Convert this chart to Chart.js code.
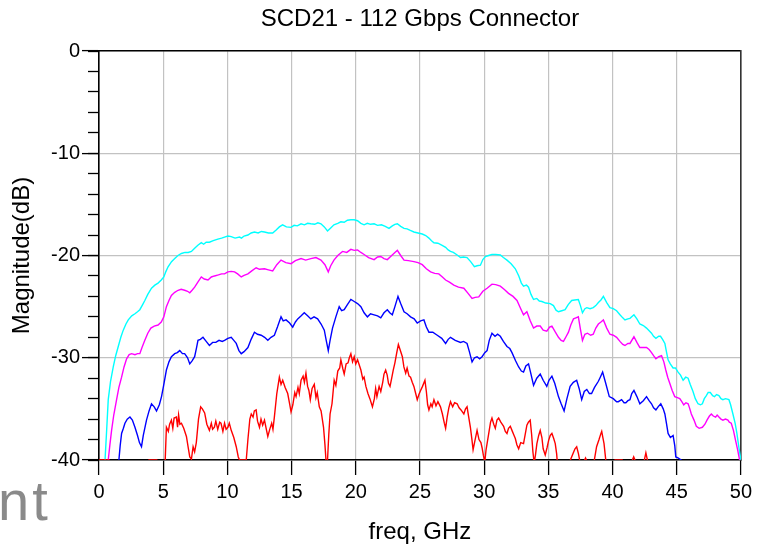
<!DOCTYPE html>
<html>
<head>
<meta charset="utf-8">
<script src="https://cdn.jsdelivr.net/npm/chart.js@4.4.1/dist/chart.umd.min.js"></script>
<style>
html,body{margin:0;padding:0;background:#fff;}
#wrap{width:757px;height:547px;position:relative;}
</style>
</head>
<body>
<div id="wrap"><canvas id="c" width="757" height="547"></canvas></div>
<script>
const chartTitle = "SCD21 - 112 Gbps Connector";
const xTitle = "freq, GHz";
const yTitle = "Magnitude(dB)";
const sideText = "nt";
const xTicks = [0,5,10,15,20,25,30,35,40,45,50];
const yTicks = [0,-10,-20,-30,-40];

const cyanFreq = [0.0,0.3,0.47,0.6,0.72,0.9,1.11,1.3,1.5,1.7,1.89,2.1,2.28,2.55,2.8,3.0,3.18,3.4,3.57,3.8,4.09,4.35,4.6,4.85,5.05,5.2,5.38,5.65,5.9,6.15,6.42,6.7,6.95,7.2,7.45,7.7,7.97,8.15,8.35,8.6,8.9,9.26,9.55,9.78,10.04,10.3,10.6,10.95,11.1,11.3,11.6,11.85,12.11,12.4,12.65,12.89,13.2,13.53,13.8,14.05,14.3,14.6,14.96,15.2,15.45,15.74,16.0,16.25,16.5,16.8,17.05,17.29,17.55,17.8,18.05,18.3,18.6,18.84,19.1,19.35,19.62,19.88,20.14,20.4,20.65,20.9,21.15,21.43,21.7,22.0,22.3,22.59,22.85,23.05,23.24,23.5,23.76,24.0,24.25,24.53,24.85,25.18,25.45,25.7,25.9,26.09,26.4,26.73,27.0,27.2,27.38,27.6,27.9,28.16,28.4,28.67,28.95,29.24,29.45,29.71,29.9,30.1,30.35,30.61,30.9,31.26,31.5,31.78,32.1,32.43,32.7,32.9,33.07,33.3,33.46,33.65,33.85,34.1,34.3,34.5,34.8,35.15,35.4,35.6,35.79,36.05,36.31,36.55,36.82,37.05,37.34,37.5,37.66,37.85,38.0,38.25,38.5,38.7,38.9,39.1,39.29,39.55,39.8,40.06,40.32,40.58,40.8,40.97,41.2,41.36,41.67,41.9,42.13,42.4,42.65,43.04,43.2,43.38,43.6,43.74,43.9,44.08,44.2,44.33,44.5,44.72,44.9,45.11,45.3,45.5,45.7,45.89,46.05,46.27,46.45,46.66,46.85,47.0,47.15,47.31,47.45,47.62,47.8,47.95,48.1,48.29,48.45,48.6,48.8,49.07,49.2,49.38,49.55,49.69,49.85,50.0];
const cyanDb = [-52,-44,-40,-37,-34.1,-32.3,-30.9,-29.8,-28.9,-28.0,-27.3,-26.7,-26.3,-25.9,-25.7,-25.5,-25.3,-24.8,-24.4,-23.8,-23.2,-22.9,-22.7,-22.4,-22.1,-21.6,-21.1,-20.6,-20.3,-20.0,-19.8,-19.7,-19.7,-19.6,-19.3,-19.0,-18.75,-18.9,-18.7,-18.7,-18.55,-18.4,-18.3,-18.2,-18.1,-18.15,-18.3,-18.2,-18.3,-18.1,-18.0,-17.8,-17.7,-17.8,-17.65,-17.7,-17.8,-17.8,-17.5,-17.2,-17.0,-17.2,-17.25,-17.05,-17.1,-16.9,-17.0,-16.85,-16.9,-16.95,-16.8,-16.9,-17.2,-17.6,-17.3,-17.0,-16.85,-16.7,-16.75,-16.55,-16.5,-16.5,-16.6,-16.85,-17.0,-16.85,-16.95,-16.9,-17.05,-17.0,-17.15,-17.35,-17.1,-16.95,-16.9,-17.15,-17.35,-17.4,-17.55,-17.7,-17.8,-17.9,-18.05,-18.3,-18.55,-18.75,-18.8,-19.0,-19.2,-19.45,-19.6,-19.7,-19.95,-20.2,-20.15,-20.2,-20.6,-21.1,-21.0,-20.95,-20.4,-20.1,-20.0,-19.9,-19.9,-19.95,-20.2,-20.45,-20.8,-21.3,-22.0,-22.7,-23.0,-22.9,-23.1,-23.8,-24.3,-24.2,-24.45,-24.5,-24.65,-24.7,-24.9,-25.35,-25.5,-25.4,-25.3,-24.8,-24.4,-24.35,-24.3,-24.9,-25.6,-25.2,-25.1,-25.2,-25.1,-24.9,-24.6,-24.35,-24.0,-24.6,-25.1,-25.2,-25.4,-25.8,-26.1,-26.3,-26.2,-26.15,-25.8,-26.2,-26.7,-26.85,-27.1,-27.6,-27.9,-28.1,-27.9,-27.9,-28.2,-28.6,-29.4,-30.2,-30.6,-31.0,-31.0,-31.4,-31.7,-32.2,-31.9,-32.0,-32.6,-33.3,-34.0,-34.5,-34.6,-34.5,-34.0,-33.7,-33.4,-33.4,-33.7,-33.8,-33.6,-33.7,-34.0,-34.1,-34.0,-34.1,-34.6,-35.5,-36.4,-37.4,-38.8,-40.0];

const magentaFreq = [0.3,0.6,0.72,0.85,0.98,1.15,1.37,1.55,1.76,1.95,2.15,2.35,2.54,2.8,3.0,3.18,3.35,3.57,3.8,4.04,4.3,4.6,4.85,5.05,5.25,5.45,5.64,5.9,6.16,6.4,6.67,6.9,7.07,7.25,7.45,7.7,7.97,8.2,8.49,8.75,9.0,9.3,9.55,9.78,10.04,10.3,10.56,10.8,11.08,11.3,11.6,11.9,12.24,12.5,12.89,13.2,13.53,13.85,14.18,14.55,14.96,15.3,15.74,16.1,16.5,16.9,17.29,17.6,17.86,18.05,18.3,18.6,18.97,19.3,19.62,19.88,20.14,20.4,20.65,21.0,21.43,21.7,21.95,22.2,22.46,22.8,23.05,23.24,23.5,23.76,24.1,24.53,24.85,25.18,25.5,25.83,26.15,26.47,26.75,27.0,27.3,27.64,28.0,28.42,28.75,29.06,29.3,29.58,29.9,30.23,30.61,30.9,31.26,31.6,31.9,32.25,32.56,32.85,33.07,33.33,33.6,33.85,34.1,34.37,34.6,34.88,35.1,35.28,35.55,35.79,36.0,36.18,36.4,36.57,36.75,36.96,37.15,37.34,37.5,37.66,37.85,38.05,38.3,38.5,38.7,38.9,39.1,39.29,39.55,39.8,40.06,40.32,40.58,40.8,40.97,41.2,41.36,41.67,41.9,42.13,42.4,42.65,42.85,43.04,43.2,43.38,43.6,43.82,44.0,44.15,44.3,44.46,44.65,44.85,45.05,45.24,45.4,45.55,45.72,45.89,46.0,46.14,46.35,46.53,46.75,47.0,47.2,47.36,47.55,47.7,47.85,48.03,48.15,48.29,48.45,48.6,48.8,48.99,49.1,49.25,49.42,49.59,49.75,49.9,50.0];
const magentaDb = [-48,-42,-40,-38.5,-37.1,-35.6,-34.1,-32.9,-31.9,-30.9,-30.1,-29.7,-29.6,-29.7,-29.6,-29.6,-29.0,-28.3,-27.6,-27.1,-26.9,-26.8,-26.5,-26.0,-25.0,-24.4,-23.9,-23.6,-23.4,-23.3,-23.4,-23.5,-23.65,-23.4,-23.1,-22.6,-22.1,-22.3,-22.4,-22.1,-22.0,-21.9,-21.8,-21.8,-21.6,-21.55,-21.6,-21.8,-22.1,-21.95,-21.8,-21.5,-21.2,-21.35,-21.3,-21.4,-21.5,-20.9,-20.45,-20.7,-20.8,-20.5,-20.3,-20.45,-20.3,-20.2,-20.45,-20.9,-21.6,-21.0,-20.45,-20.0,-19.6,-19.7,-19.4,-19.5,-19.45,-19.7,-19.9,-20.2,-20.4,-20.15,-20.1,-20.3,-20.4,-20.0,-19.7,-19.5,-20.0,-20.45,-20.5,-20.6,-20.7,-20.9,-21.3,-21.6,-21.75,-21.8,-22.1,-22.4,-22.6,-22.9,-23.1,-23.2,-23.7,-24.2,-24.1,-24.05,-23.5,-23.2,-22.8,-22.85,-23.0,-23.35,-23.7,-24.0,-24.4,-25.2,-25.8,-25.5,-26.4,-27.1,-26.9,-26.9,-27.3,-27.4,-27.0,-26.9,-27.5,-28.0,-28.3,-28.4,-27.9,-27.5,-26.8,-26.2,-26.1,-26.0,-27.2,-28.3,-27.7,-27.6,-27.8,-27.7,-27.1,-26.7,-26.5,-26.3,-27.1,-27.7,-27.8,-28.0,-28.4,-28.7,-28.8,-28.6,-28.6,-27.95,-28.5,-29.0,-29.0,-29.0,-29.2,-29.5,-29.8,-30.1,-29.9,-29.8,-30.4,-31.2,-31.9,-32.5,-33.2,-33.8,-33.9,-34.0,-34.3,-34.6,-34.4,-34.5,-34.9,-35.5,-36.1,-36.7,-36.9,-36.8,-36.5,-36.1,-35.7,-35.5,-35.7,-35.8,-35.6,-35.8,-36.0,-36.1,-36.0,-36.1,-36.3,-36.4,-37.1,-38.1,-39.0,-40.0,-41];

const blueFreq = [1.3,1.55,1.65,1.76,1.9,2.02,2.2,2.41,2.6,2.8,3.0,3.15,3.31,3.45,3.7,3.9,4.09,4.3,4.48,4.7,4.87,5.05,5.25,5.45,5.64,5.9,6.1,6.29,6.5,6.67,6.9,7.07,7.25,7.45,7.6,7.71,7.9,8.1,8.35,8.6,8.85,9.1,9.35,9.6,9.78,10.04,10.3,10.5,10.69,10.9,11.08,11.3,11.6,11.85,12.11,12.35,12.63,12.9,13.15,13.4,13.66,13.9,14.18,14.35,14.57,14.85,15.09,15.3,15.48,15.75,15.99,16.25,16.5,16.75,17.03,17.3,17.55,17.7,17.86,18.0,18.19,18.45,18.71,18.9,19.1,19.35,19.62,19.88,20.14,20.4,20.65,20.91,21.15,21.43,21.7,21.95,22.2,22.46,22.65,22.85,23.05,23.29,23.5,23.76,24.0,24.27,24.55,24.79,25.05,25.31,25.5,25.7,26.0,26.35,26.7,27.0,27.2,27.38,27.75,28.16,28.4,28.67,28.85,29.06,29.25,29.45,29.65,29.84,30.05,30.23,30.4,30.61,30.85,31.05,31.26,31.5,31.78,32.0,32.17,32.45,32.69,32.9,33.07,33.25,33.46,33.65,33.85,34.1,34.37,34.6,34.88,35.05,35.28,35.5,35.79,36.0,36.23,36.45,36.7,36.95,37.21,37.4,37.6,37.8,38.0,38.2,38.37,38.6,38.9,39.05,39.23,39.45,39.75,40.06,40.32,40.45,40.71,40.9,41.04,41.2,41.36,41.5,41.67,41.9,42.13,42.4,42.65,42.85,43.04,43.2,43.38,43.55,43.76,43.95,44.08,44.2,44.33,44.51,44.72,44.85,44.93,45.1,45.24,45.35,45.5,45.7];
const blueDb = [-44,-40,-38.6,-37.4,-36.9,-36.4,-36.0,-35.8,-36.1,-36.8,-37.6,-38.3,-38.7,-37.6,-36.1,-35.2,-34.5,-34.8,-35.2,-34.6,-33.8,-32.6,-31.2,-30.4,-29.9,-29.6,-29.5,-29.3,-29.6,-29.6,-30.0,-30.6,-30.3,-29.9,-29.0,-28.3,-28.2,-28.0,-28.4,-28.8,-28.5,-28.5,-28.3,-28.4,-28.3,-28.1,-28.0,-28.3,-28.6,-29.3,-29.6,-29.4,-29.0,-28.2,-27.5,-27.7,-27.8,-28.0,-28.3,-28.0,-27.8,-27.0,-26.0,-26.4,-26.3,-26.6,-27.0,-26.5,-26.2,-25.9,-25.6,-25.9,-26.2,-26.0,-26.2,-26.7,-27.3,-28.3,-29.3,-28.3,-27.1,-26.0,-25.0,-25.4,-25.3,-24.8,-24.3,-24.5,-24.7,-25.0,-25.6,-26.0,-25.7,-25.8,-25.9,-26.1,-25.6,-25.3,-25.6,-25.8,-25.0,-24.0,-24.7,-25.5,-25.7,-26.0,-26.2,-26.6,-26.4,-26.3,-27.0,-27.5,-27.5,-27.8,-28.1,-28.6,-28.2,-28.0,-28.3,-28.5,-28.4,-28.6,-29.4,-30.4,-30.0,-29.9,-30.1,-29.9,-29.5,-29.3,-28.3,-27.6,-27.9,-27.7,-27.9,-28.4,-28.9,-29.1,-29.5,-30.3,-30.9,-31.3,-31.4,-30.8,-30.6,-31.6,-32.7,-32.0,-31.6,-32.2,-32.8,-32.2,-31.8,-32.5,-33.8,-34.5,-35.2,-34.0,-32.8,-32.4,-32.2,-33.0,-34.1,-33.3,-33.1,-33.5,-33.5,-32.9,-32.3,-31.9,-31.4,-32.4,-33.8,-34.0,-34.3,-34.3,-34.1,-34.4,-34.4,-34.2,-34.1,-33.5,-33.2,-33.8,-34.5,-34.2,-33.8,-34.2,-34.5,-34.9,-35.1,-34.8,-34.5,-35.0,-35.5,-36.4,-37.4,-37.8,-37.6,-38.6,-39.7,-39.8,-39.9,-40.0,-43,-46];

const redFreq = [0.0,0.4,0.8,1.0,3.7,3.9,4.5,4.7,5.1,5.25,5.4,5.5,5.64,5.75,5.85,6.03,6.12,6.2,6.3,6.42,6.6,6.81,6.95,7.07,7.2,7.33,7.45,7.58,7.75,7.92,8.05,8.23,8.4,8.6,8.75,8.85,8.99,9.1,9.25,9.4,9.5,9.65,9.78,9.9,10.04,10.15,10.3,10.5,10.69,10.85,10.95,11.47,11.6,11.75,11.86,12.0,12.1,12.24,12.35,12.5,12.62,12.75,12.89,13.02,13.15,13.3,13.45,13.55,13.66,13.85,14.05,14.18,14.31,14.5,14.7,14.85,14.96,15.1,15.25,15.35,15.5,15.6,15.74,15.9,16.0,16.12,16.25,16.35,16.46,16.6,16.77,16.9,17.0,17.16,17.3,17.49,17.6,17.68,17.75,17.8,17.9,18.0,18.15,18.32,18.45,18.6,18.75,18.84,19.0,19.1,19.25,19.4,19.5,19.62,19.75,19.88,20.0,20.14,20.3,20.4,20.55,20.65,20.79,20.95,21.1,21.3,21.45,21.55,21.65,21.82,21.95,22.1,22.2,22.33,22.45,22.55,22.67,22.8,22.92,23.05,23.18,23.32,23.45,23.63,23.75,23.89,24.0,24.15,24.27,24.4,24.53,24.65,24.79,24.92,25.05,25.2,25.39,25.5,25.6,25.7,25.85,25.95,26.09,26.25,26.4,26.6,26.75,26.9,27.0,27.12,27.25,27.38,27.55,27.7,27.9,28.05,28.2,28.42,28.55,28.67,28.8,28.93,29.05,29.14,29.3,29.45,29.6,29.75,29.84,29.95,30.05,30.15,30.36,30.5,30.61,30.75,30.87,31.0,31.13,31.3,31.52,31.65,31.78,31.9,32.04,32.2,32.3,32.43,32.55,32.69,32.85,33.07,33.2,33.33,33.45,33.59,33.7,33.8,33.9,34.0,34.11,34.25,34.37,34.5,34.6,34.76,34.9,35.02,35.15,35.28,35.42,35.54,35.65,35.75,36.0,36.55,36.72,36.95,37.08,37.21,37.35,37.47,37.65,37.8,37.9,38.0,38.15,38.45,38.6,38.76,38.95,39.1,39.16,39.25,39.34,39.45,39.55,39.9,40.2,40.75,40.9,41.4,41.55,41.65,41.75,41.9,42.35,42.5,42.6,42.7,42.85,43.5,50.0];
const redDb = [-40,-40,-40,-43,-43,-40,-40,-43,-42,-36.8,-37.2,-36.5,-36.1,-36.9,-35.9,-35.8,-36.8,-35.6,-36.5,-36.4,-36.9,-37.7,-38.8,-39.7,-39.9,-38.7,-39.2,-38.3,-36.0,-34.8,-35.0,-35.4,-36.5,-37.1,-36.4,-37.0,-36.8,-36.2,-37.0,-36.3,-36.4,-37.2,-36.4,-37.0,-36.8,-36.4,-37.1,-37.8,-38.7,-39.7,-40,-40,-38.0,-36.0,-35.5,-35.8,-35.2,-35.1,-36.2,-36.8,-36.0,-36.6,-36.1,-36.9,-37.7,-37.0,-36.4,-37.0,-35.8,-33.5,-31.9,-32.6,-32.2,-32.9,-33.5,-34.5,-35.3,-34.6,-33.4,-33.8,-32.9,-33.5,-32.2,-31.8,-32.4,-31.5,-32.8,-33.2,-34.1,-33.0,-32.6,-33.9,-33.4,-34.8,-35.2,-36.8,-38.5,-40,-41,-40,-37.5,-35.5,-34.5,-32.2,-32.7,-31.3,-31.0,-30.2,-31.1,-31.6,-30.6,-30.5,-30.0,-29.6,-30.4,-29.9,-30.6,-30.2,-30.8,-31.2,-32.1,-31.9,-32.8,-33.5,-34.0,-34.8,-34.0,-33.0,-33.8,-32.8,-33.3,-32.4,-31.6,-31.2,-31.7,-32.5,-32.8,-32.0,-31.2,-30.5,-29.6,-28.7,-29.2,-29.9,-30.9,-31.5,-31.0,-31.8,-31.9,-32.4,-32.8,-33.4,-34.1,-33.6,-33.2,-32.8,-32.2,-33.3,-34.6,-35.1,-34.5,-34.8,-34.1,-34.7,-34.3,-34.8,-35.5,-36.4,-36.9,-35.8,-34.9,-34.3,-34.8,-34.4,-34.5,-34.9,-35.1,-35.5,-35.0,-34.8,-35.8,-36.8,-38.0,-39.0,-38.0,-37.1,-38.0,-38.3,-38.8,-39.6,-40.2,-39.0,-37.4,-36.3,-35.9,-36.5,-36.9,-36.1,-35.9,-36.3,-36.7,-37.2,-37.4,-36.9,-36.7,-37.2,-37.5,-37.9,-38.5,-38.9,-38.3,-38.4,-37.5,-36.6,-36.3,-36.1,-37.5,-39.2,-40.3,-39.5,-38.4,-37.6,-37.1,-37.8,-38.9,-39.5,-38.8,-38.1,-37.6,-37.4,-37.9,-38.4,-39.4,-41,-43,-42,-40,-39.3,-38.9,-38.7,-39.4,-40.2,-41,-40.1,-39.8,-40.1,-41,-41,-39.9,-38.7,-38.0,-37.4,-37.2,-37.8,-38.4,-39.7,-41,-42,-40,-40,-41,-41,-40.0,-39.7,-40.0,-41,-41,-39.9,-39.3,-39.9,-41,-44,-45];

function pts(fs, ds) { return fs.map((f, i) => ({ x: f, y: ds[i] })); }

const FONT = '"Liberation Sans", Arial, Helvetica, sans-serif';
const GRID = '#c2c2c2';

const sidePlugin = {
  id: 'sideText',
  afterDraw(chart) {
    const ctx = chart.ctx;
    ctx.save();
    ctx.font = '56px ' + FONT;
    ctx.fillStyle = '#8a8a8a';
    ctx.textBaseline = 'alphabetic';
    ctx.textAlign = 'left';
    try { ctx.letterSpacing = '3px'; } catch (e) {}
    ctx.fillText(sideText, -2, 520);
    ctx.restore();
  }
};

new Chart(document.getElementById('c'), {
  type: 'line',
  data: {
    datasets: [
      { label: 'red', data: pts(redFreq, redDb), borderColor: '#ff0000' },
      { label: 'blue', data: pts(blueFreq, blueDb), borderColor: '#0000ff' },
      { label: 'magenta', data: pts(magentaFreq, magentaDb), borderColor: '#ff00ff' },
      { label: 'cyan', data: pts(cyanFreq, cyanDb), borderColor: '#00ffff' }
    ]
  },
  options: {
    responsive: false,
    animation: false,
    devicePixelRatio: 1,
    layout: { padding: { left: 0, right: 14, top: 0, bottom: 0 } },
    elements: {
      point: { radius: 0 },
      line: { borderWidth: 1.4, tension: 0, fill: false }
    },
    plugins: {
      legend: { display: false },
      tooltip: { enabled: false },
      title: {
        display: true, text: chartTitle, color: '#000', fullSize: false,
        font: { family: FONT, size: 24, weight: 'normal', lineHeight: 1.2 },
        padding: { top: 5, bottom: 17.2 }
      }
    },
    scales: {
      x: {
        type: 'linear', position: 'bottom', min: 0, max: 50,
        afterBuildTicks(s) { s.ticks = xTicks.map(v => ({ value: v })); },
        afterFit(s) { s.height = 87; },
        ticks: { stepSize: 5, autoSkip: false, maxRotation: 0, color: '#000', padding: 5,
          font: { family: FONT, size: 20 }, callback: v => String(v) },
        grid: { color: GRID, lineWidth: 1.2, tickLength: 15, tickColor: '#000', tickWidth: 1.3 },
        border: { color: '#000', width: 1.6 },
        title: { display: true, text: xTitle, color: '#000', font: { family: FONT, size: 24, lineHeight: 1.2 }, padding: { top: 0, bottom: 0 } }
      },
      y: {
        type: 'linear', position: 'left', min: -40, max: 0,
        afterBuildTicks(s) { s.ticks = yTicks.slice().reverse().map(v => ({ value: v })); },
        afterFit(s) { s.width = 99; },
        ticks: { stepSize: 10, color: '#000', padding: 2, font: { family: FONT, size: 20 }, callback: v => String(v) },
        grid: { color: GRID, lineWidth: 1.2, tickLength: 17, tickColor: '#000', tickWidth: 1.3 },
        border: { color: '#000', width: 1.6 },
        title: { display: true, text: yTitle, color: '#000', font: { family: FONT, size: 24, lineHeight: 1.2 }, padding: { top: 7.6, bottom: 0 } }
      },
      yMinor: {
        type: 'linear', axis: 'y', position: { x: 0 }, min: -40, max: 0,
        ticks: { display: false, stepSize: 2 },
        grid: { drawOnChartArea: false, tickLength: 11, tickColor: '#000', tickWidth: 1.3 },
        border: { display: false }
      },
      xTop: {
        type: 'linear', axis: 'x', position: 'top', min: 0, max: 50,
        afterFit(s) { s.height = 0; },
        ticks: { display: false },
        grid: { display: false, drawTicks: false },
        border: { display: true, color: '#000', width: 1.6 }
      },
      yRight: {
        type: 'linear', axis: 'y', position: 'right', min: -40, max: 0,
        afterFit(s) { s.width = 0; },
        ticks: { display: false },
        grid: { display: false, drawTicks: false },
        border: { display: true, color: '#333', width: 1.6 }
      }
    }
  },
  plugins: [sidePlugin]
});
</script>
</body>
</html>
